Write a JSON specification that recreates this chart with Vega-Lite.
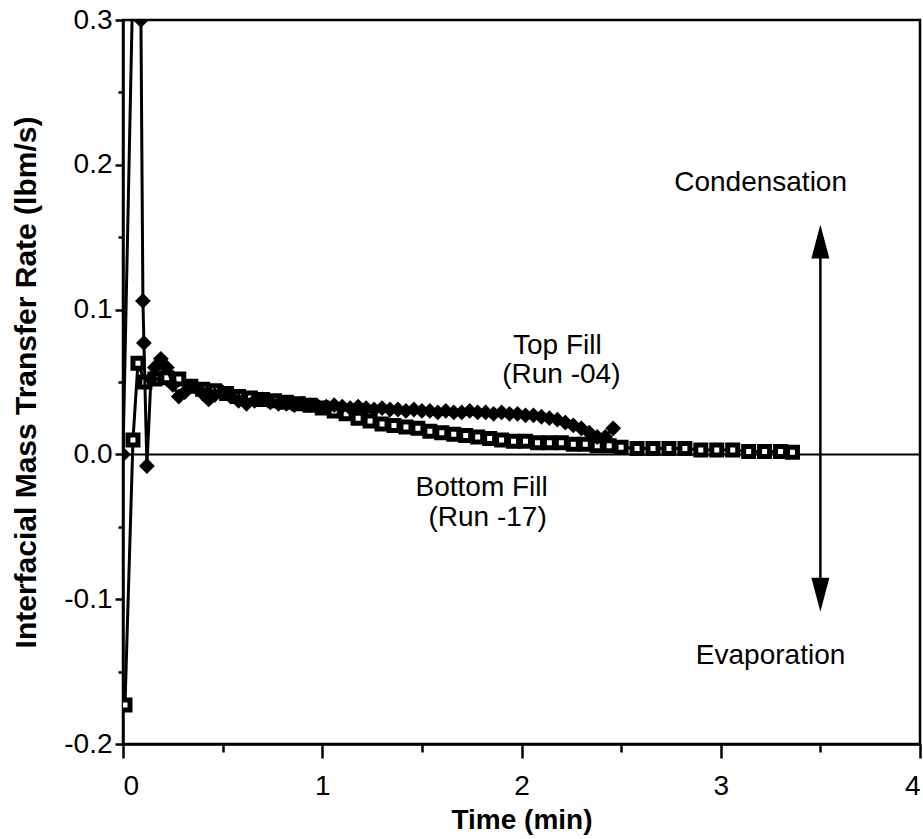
{
  "$schema": "https://vega.github.io/schema/vega-lite/v6.json",
  "width": 797,
  "height": 724,
  "autosize": "none",
  "padding": {"left": 123, "top": 20, "right": 3, "bottom": 95},
  "background": "white",
  "config": {
    "view": {"stroke": "black", "strokeWidth": 2.5},
    "font": "Liberation Sans",
    "axis": {"grid": false, "domainColor": "black", "domainWidth": 2.5, "tickColor": "black", "tickWidth": 2.5, "labelColor": "black", "titleColor": "black", "labelFont": "Liberation Sans", "titleFont": "Liberation Sans", "labelFontSize": 28, "titleFontSize": 28, "titleFontWeight": "bold"}
  },
  "datasets": {
    "series": [
      {"s": "top", "t": 0.0, "v": 0.0},
      {"s": "top", "t": 0.05, "v": 0.33},
      {"s": "top", "t": 0.09, "v": 0.3},
      {"s": "top", "t": 0.10, "v": 0.106},
      {"s": "top", "t": 0.105, "v": 0.077},
      {"s": "top", "t": 0.12, "v": -0.008},
      {"s": "top", "t": 0.14, "v": 0.052},
      {"s": "top", "t": 0.16, "v": 0.06},
      {"s": "top", "t": 0.19, "v": 0.066},
      {"s": "top", "t": 0.22, "v": 0.06},
      {"s": "top", "t": 0.25, "v": 0.048},
      {"s": "top", "t": 0.28, "v": 0.04},
      {"s": "top", "t": 0.31, "v": 0.043},
      {"s": "top", "t": 0.34, "v": 0.047},
      {"s": "top", "t": 0.37, "v": 0.046},
      {"s": "top", "t": 0.40, "v": 0.042},
      {"s": "top", "t": 0.43, "v": 0.038},
      {"s": "top", "t": 0.46, "v": 0.041},
      {"s": "top", "t": 0.50, "v": 0.043},
      {"s": "top", "t": 0.54, "v": 0.04},
      {"s": "top", "t": 0.58, "v": 0.037},
      {"s": "top", "t": 0.62, "v": 0.035},
      {"s": "top", "t": 0.66, "v": 0.037},
      {"s": "top", "t": 0.70, "v": 0.038},
      {"s": "top", "t": 0.74, "v": 0.036},
      {"s": "top", "t": 0.78, "v": 0.035},
      {"s": "top", "t": 0.82, "v": 0.035},
      {"s": "top", "t": 0.86, "v": 0.034},
      {"s": "top", "t": 0.90, "v": 0.035},
      {"s": "top", "t": 0.94, "v": 0.034},
      {"s": "top", "t": 0.98, "v": 0.033},
      {"s": "top", "t": 1.02, "v": 0.033},
      {"s": "top", "t": 1.06, "v": 0.034},
      {"s": "top", "t": 1.10, "v": 0.033},
      {"s": "top", "t": 1.14, "v": 0.032},
      {"s": "top", "t": 1.18, "v": 0.033},
      {"s": "top", "t": 1.22, "v": 0.032},
      {"s": "top", "t": 1.26, "v": 0.031},
      {"s": "top", "t": 1.30, "v": 0.032},
      {"s": "top", "t": 1.34, "v": 0.031},
      {"s": "top", "t": 1.38, "v": 0.031},
      {"s": "top", "t": 1.42, "v": 0.03},
      {"s": "top", "t": 1.46, "v": 0.031},
      {"s": "top", "t": 1.50, "v": 0.03},
      {"s": "top", "t": 1.54, "v": 0.03},
      {"s": "top", "t": 1.58, "v": 0.029},
      {"s": "top", "t": 1.62, "v": 0.03},
      {"s": "top", "t": 1.66, "v": 0.029},
      {"s": "top", "t": 1.70, "v": 0.029},
      {"s": "top", "t": 1.74, "v": 0.03},
      {"s": "top", "t": 1.78, "v": 0.029},
      {"s": "top", "t": 1.82, "v": 0.029},
      {"s": "top", "t": 1.86, "v": 0.028},
      {"s": "top", "t": 1.90, "v": 0.029},
      {"s": "top", "t": 1.94, "v": 0.028},
      {"s": "top", "t": 1.98, "v": 0.028},
      {"s": "top", "t": 2.02, "v": 0.027},
      {"s": "top", "t": 2.06, "v": 0.027},
      {"s": "top", "t": 2.10, "v": 0.026},
      {"s": "top", "t": 2.14, "v": 0.025},
      {"s": "top", "t": 2.18, "v": 0.024},
      {"s": "top", "t": 2.22, "v": 0.022},
      {"s": "top", "t": 2.26, "v": 0.02},
      {"s": "top", "t": 2.30, "v": 0.018},
      {"s": "top", "t": 2.34, "v": 0.015},
      {"s": "top", "t": 2.38, "v": 0.012},
      {"s": "top", "t": 2.42, "v": 0.012},
      {"s": "top", "t": 2.46, "v": 0.018},
      {"s": "bottom", "t": 0.01, "v": -0.173},
      {"s": "bottom", "t": 0.05, "v": 0.01},
      {"s": "bottom", "t": 0.075, "v": 0.063},
      {"s": "bottom", "t": 0.11, "v": 0.05},
      {"s": "bottom", "t": 0.16, "v": 0.052},
      {"s": "bottom", "t": 0.22, "v": 0.053},
      {"s": "bottom", "t": 0.28, "v": 0.052},
      {"s": "bottom", "t": 0.34, "v": 0.047},
      {"s": "bottom", "t": 0.40, "v": 0.045},
      {"s": "bottom", "t": 0.46, "v": 0.044},
      {"s": "bottom", "t": 0.52, "v": 0.042},
      {"s": "bottom", "t": 0.58, "v": 0.04},
      {"s": "bottom", "t": 0.64, "v": 0.039},
      {"s": "bottom", "t": 0.70, "v": 0.038},
      {"s": "bottom", "t": 0.76, "v": 0.037},
      {"s": "bottom", "t": 0.82, "v": 0.036},
      {"s": "bottom", "t": 0.88, "v": 0.035},
      {"s": "bottom", "t": 0.94, "v": 0.034},
      {"s": "bottom", "t": 1.00, "v": 0.032},
      {"s": "bottom", "t": 1.06, "v": 0.03},
      {"s": "bottom", "t": 1.12, "v": 0.028},
      {"s": "bottom", "t": 1.18, "v": 0.025},
      {"s": "bottom", "t": 1.24, "v": 0.023},
      {"s": "bottom", "t": 1.30, "v": 0.021},
      {"s": "bottom", "t": 1.36, "v": 0.02},
      {"s": "bottom", "t": 1.42, "v": 0.019},
      {"s": "bottom", "t": 1.48, "v": 0.018},
      {"s": "bottom", "t": 1.54, "v": 0.016},
      {"s": "bottom", "t": 1.60, "v": 0.015},
      {"s": "bottom", "t": 1.66, "v": 0.014},
      {"s": "bottom", "t": 1.72, "v": 0.013},
      {"s": "bottom", "t": 1.78, "v": 0.012},
      {"s": "bottom", "t": 1.84, "v": 0.011},
      {"s": "bottom", "t": 1.90, "v": 0.01},
      {"s": "bottom", "t": 1.96, "v": 0.009},
      {"s": "bottom", "t": 2.02, "v": 0.009},
      {"s": "bottom", "t": 2.08, "v": 0.008},
      {"s": "bottom", "t": 2.14, "v": 0.008},
      {"s": "bottom", "t": 2.20, "v": 0.008},
      {"s": "bottom", "t": 2.26, "v": 0.007},
      {"s": "bottom", "t": 2.32, "v": 0.007},
      {"s": "bottom", "t": 2.38, "v": 0.006},
      {"s": "bottom", "t": 2.44, "v": 0.006},
      {"s": "bottom", "t": 2.50, "v": 0.005},
      {"s": "bottom", "t": 2.58, "v": 0.004},
      {"s": "bottom", "t": 2.66, "v": 0.004},
      {"s": "bottom", "t": 2.74, "v": 0.004},
      {"s": "bottom", "t": 2.82, "v": 0.004},
      {"s": "bottom", "t": 2.90, "v": 0.003},
      {"s": "bottom", "t": 2.98, "v": 0.003},
      {"s": "bottom", "t": 3.06, "v": 0.003},
      {"s": "bottom", "t": 3.14, "v": 0.002},
      {"s": "bottom", "t": 3.22, "v": 0.002},
      {"s": "bottom", "t": 3.30, "v": 0.002},
      {"s": "bottom", "t": 3.36, "v": 0.0014}
    ],
    "notes": [
      {"label": "Condensation", "t": 3.2, "v": 0.1876},
      {"label": "Evaporation", "t": 3.25, "v": -0.139},
      {"label": "Top Fill", "t": 2.18, "v": 0.075},
      {"label": "(Run -04)", "t": 2.2, "v": 0.0545},
      {"label": "Bottom Fill", "t": 1.8, "v": -0.0234},
      {"label": "(Run -17)", "t": 1.83, "v": -0.044}
    ]
  },
  "encoding": {
    "x": {
      "field": "t", "type": "quantitative",
      "scale": {"domain": [0, 4], "nice": false, "zero": false},
      "axis": {
        "title": "Time (min)",
        "values": [0, 0.5, 1, 1.5, 2, 2.5, 3, 3.5, 4],
        "labelExpr": "datum.value % 1 === 0 ? format(datum.value, 'd') : ''",
        "tickSize": {"condition": {"test": "datum.value % 1 === 0", "value": 14}, "value": 8},
        "labelPadding": 14,
        "titlePadding": 6
      }
    },
    "y": {
      "field": "v", "type": "quantitative",
      "scale": {"domain": [-0.2, 0.3], "nice": false, "zero": false},
      "axis": {
        "title": "Interfacial Mass Transfer Rate (lbm/s)",
        "titleFontSize": 30,
        "values": [-0.2, -0.15, -0.1, -0.05, 0, 0.05, 0.1, 0.15, 0.2, 0.25, 0.3],
        "labelExpr": "abs(datum.value * 10 - round(datum.value * 10)) < 0.01 ? replace(format(datum.value, '.1f'), '\u2212', '-') : ''",
        "tickSize": {"condition": {"test": "abs(datum.value * 10 - round(datum.value * 10)) < 0.01", "value": 8}, "value": 5},
        "labelPadding": 3,
        "titlePadding": 22
      }
    }
  },
  "layer": [
    {
      "data": {"values": [{"t": 0, "t2": 4, "v": 0}]},
      "mark": {"type": "rule", "color": "black", "strokeWidth": 2},
      "encoding": {"x2": {"field": "t2"}}
    },
    {
      "data": {"values": [{"t": 3.5, "v": 0.14, "v2": -0.09}]},
      "mark": {"type": "rule", "color": "black", "strokeWidth": 2.5},
      "encoding": {"y2": {"field": "v2"}}
    },
    {
      "data": {"values": [{"t": 3.5, "v": 0.147}]},
      "mark": {"type": "point", "shape": "M0,-1L0.53,1L-0.53,1Z", "size": 1156, "filled": true, "color": "black", "opacity": 1}
    },
    {
      "data": {"values": [{"t": 3.5, "v": -0.097}]},
      "mark": {"type": "point", "shape": "M0,1L0.53,-1L-0.53,-1Z", "size": 1156, "filled": true, "color": "black", "opacity": 1}
    },
    {
      "data": {"name": "series"},
      "transform": [{"filter": "datum.s === 'bottom'"}],
      "mark": {"type": "line", "color": "black", "strokeWidth": 3, "clip": true}
    },
    {
      "data": {"name": "series"},
      "transform": [{"filter": "datum.s === 'bottom'"}],
      "mark": {"type": "point", "shape": "square", "size": 100, "filled": false, "fill": "white", "stroke": "black", "strokeWidth": 5, "opacity": 1, "clip": true}
    },
    {
      "data": {"name": "series"},
      "transform": [{"filter": "datum.s === 'top'"}],
      "mark": {"type": "line", "color": "black", "strokeWidth": 3, "clip": true}
    },
    {
      "data": {"name": "series"},
      "transform": [{"filter": "datum.s === 'top'"}],
      "mark": {"type": "point", "shape": "diamond", "size": 250, "filled": true, "color": "black", "opacity": 1, "clip": true}
    },
    {
      "data": {"name": "notes"},
      "mark": {"type": "text", "font": "Liberation Sans", "fontSize": 28, "color": "black", "align": "center", "baseline": "middle"},
      "encoding": {"text": {"field": "label"}}
    }
  ]
}
